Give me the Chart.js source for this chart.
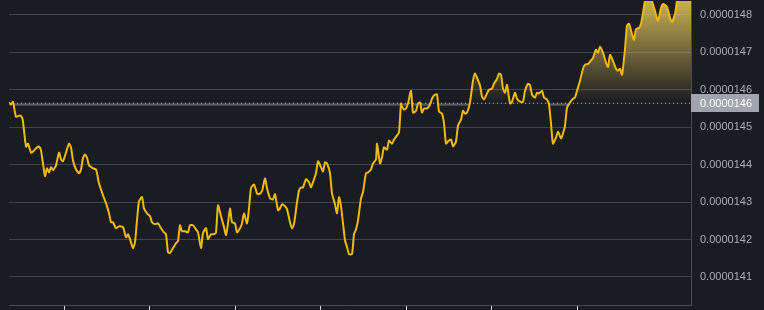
<!DOCTYPE html>
<html>
<head>
<meta charset="utf-8">
<script src="https://cdn.jsdelivr.net/npm/chart.js@4.4.1/dist/chart.umd.min.js"></script>
<style>
  html, body { margin: 0; padding: 0; background: #1b1c21; overflow: hidden; }
  #wrap { width: 764px; height: 310px; }
</style>
</head>
<body>
<div id="wrap"><canvas id="priceChart" width="764" height="310"></canvas></div>
<script>
// Time steps (minutes from first sample)
const minutes = [
  0, 2, 4, 7, 11, 13, 14, 17, 19, 22, 24, 28, 30, 32, 36, 38, 40, 42, 44, 47,
  50, 52, 54, 57, 60, 62, 64, 67, 70, 72, 74, 76, 78, 80, 84, 87, 90, 94, 97, 100,
  102, 104, 107, 110, 114, 117, 119, 121, 124, 126, 128, 130, 133, 135, 138, 141, 143, 146, 149, 152,
  155, 157, 159, 161, 164, 167, 169, 171, 173, 176, 179, 181, 184, 187, 189, 192, 194, 197, 199, 202,
  205, 207, 209, 212, 215, 217, 219, 221, 223, 226, 228, 231, 233, 235, 238, 240, 242, 245, 248, 250,
  253, 256, 258, 261, 264, 266, 269, 271, 273, 276, 278, 281, 283, 285, 288, 290, 292, 294, 297, 300,
  302, 304, 307, 309, 312, 314, 316, 318, 321, 323, 326, 328, 330, 332, 336, 338, 340, 343, 345, 347,
  349, 352, 354, 357, 359, 362, 364, 367, 368, 371, 373, 375, 378, 380, 383, 385, 388, 390, 392, 393,
  395, 397, 399, 402, 404, 407, 409, 411, 413, 415, 418, 421, 423, 426, 428, 430, 433, 435, 437, 439,
  442, 444, 447, 449, 452, 454, 456, 458, 461, 464, 466, 468, 471, 473, 475, 478, 480, 483, 485, 488,
  490, 492, 494, 496, 498, 501, 503, 506, 508, 511, 514, 516, 519, 521, 523, 526, 528, 530, 533, 535,
  538, 540, 542, 544, 547, 549, 552, 554, 556, 558, 561, 564, 566, 568, 571, 574, 576, 579, 581, 584,
  587, 589, 591, 594, 597, 599, 601, 604, 607, 609, 611, 613, 616, 618, 620, 623, 625, 627, 630, 632,
  634, 636, 639, 641, 643, 646, 649, 652, 654, 658, 661, 663, 666, 668, 671, 675, 679, 682
];

// Price values
const prices = [
  1.4566e-5, 1.4560e-5, 1.4568e-5, 1.4528e-5, 1.4531e-5, 1.4526e-5, 1.4515e-5, 1.4448e-5, 1.4456e-5, 1.4432e-5,
  1.4435e-5, 1.4446e-5, 1.4448e-5, 1.4438e-5, 1.4369e-5, 1.4390e-5, 1.4379e-5, 1.4393e-5, 1.4385e-5, 1.4398e-5,
  1.4432e-5, 1.4414e-5, 1.4409e-5, 1.4432e-5, 1.4456e-5, 1.4446e-5, 1.4411e-5, 1.4387e-5, 1.4377e-5, 1.4387e-5,
  1.4417e-5, 1.4427e-5, 1.4419e-5, 1.4398e-5, 1.4390e-5, 1.4387e-5, 1.4350e-5, 1.4318e-5, 1.4297e-5, 1.4270e-5,
  1.4246e-5, 1.4246e-5, 1.4230e-5, 1.4235e-5, 1.4233e-5, 1.4206e-5, 1.4214e-5, 1.4201e-5, 1.4177e-5, 1.4193e-5,
  1.4251e-5, 1.4302e-5, 1.4313e-5, 1.4283e-5, 1.4270e-5, 1.4262e-5, 1.4246e-5, 1.4241e-5, 1.4243e-5, 1.4230e-5,
  1.4219e-5, 1.4214e-5, 1.4166e-5, 1.4164e-5, 1.4177e-5, 1.4190e-5, 1.4196e-5, 1.4238e-5, 1.4222e-5, 1.4222e-5,
  1.4219e-5, 1.4238e-5, 1.4238e-5, 1.4227e-5, 1.4219e-5, 1.4177e-5, 1.4217e-5, 1.4230e-5, 1.4201e-5, 1.4214e-5,
  1.4214e-5, 1.4219e-5, 1.4291e-5, 1.4262e-5, 1.4233e-5, 1.4212e-5, 1.4243e-5, 1.4283e-5, 1.4246e-5, 1.4243e-5,
  1.4219e-5, 1.4230e-5, 1.4243e-5, 1.4270e-5, 1.4243e-5, 1.4283e-5, 1.4337e-5, 1.4347e-5, 1.4323e-5, 1.4321e-5,
  1.4329e-5, 1.4363e-5, 1.4337e-5, 1.4310e-5, 1.4307e-5, 1.4321e-5, 1.4278e-5, 1.4283e-5, 1.4294e-5, 1.4289e-5,
  1.4281e-5, 1.4246e-5, 1.4230e-5, 1.4241e-5, 1.4299e-5, 1.4331e-5, 1.4339e-5, 1.4339e-5, 1.4361e-5, 1.4353e-5,
  1.4339e-5, 1.4353e-5, 1.4377e-5, 1.4409e-5, 1.4393e-5, 1.4382e-5, 1.4406e-5, 1.4403e-5, 1.4377e-5, 1.4323e-5,
  1.4294e-5, 1.4270e-5, 1.4313e-5, 1.4289e-5, 1.4198e-5, 1.4180e-5, 1.4161e-5, 1.4161e-5, 1.4214e-5, 1.4227e-5,
  1.4251e-5, 1.4310e-5, 1.4326e-5, 1.4377e-5, 1.4379e-5, 1.4387e-5, 1.4403e-5, 1.4414e-5, 1.4456e-5, 1.4403e-5,
  1.4419e-5, 1.4446e-5, 1.4440e-5, 1.4464e-5, 1.4456e-5, 1.4467e-5, 1.4478e-5, 1.4486e-5, 1.4563e-5, 1.4555e-5,
  1.4547e-5, 1.4550e-5, 1.4563e-5, 1.4597e-5, 1.4539e-5, 1.4544e-5, 1.4563e-5, 1.4566e-5, 1.4539e-5, 1.4550e-5,
  1.4550e-5, 1.4560e-5, 1.4576e-5, 1.4587e-5, 1.4587e-5, 1.4542e-5, 1.4536e-5, 1.4510e-5, 1.4456e-5, 1.4462e-5,
  1.4467e-5, 1.4448e-5, 1.4462e-5, 1.4504e-5, 1.4520e-5, 1.4544e-5, 1.4536e-5, 1.4539e-5, 1.4566e-5, 1.4624e-5,
  1.4643e-5, 1.4632e-5, 1.4611e-5, 1.4582e-5, 1.4574e-5, 1.4590e-5, 1.4600e-5, 1.4603e-5, 1.4616e-5, 1.4629e-5,
  1.4643e-5, 1.4640e-5, 1.4603e-5, 1.4592e-5, 1.4613e-5, 1.4563e-5, 1.4568e-5, 1.4592e-5, 1.4576e-5, 1.4568e-5,
  1.4568e-5, 1.4597e-5, 1.4616e-5, 1.4613e-5, 1.4587e-5, 1.4579e-5, 1.4592e-5, 1.4590e-5, 1.4597e-5, 1.4579e-5,
  1.4574e-5, 1.4560e-5, 1.4510e-5, 1.4456e-5, 1.4472e-5, 1.4488e-5, 1.4470e-5, 1.4483e-5, 1.4504e-5, 1.4552e-5,
  1.4566e-5, 1.4576e-5, 1.4579e-5, 1.4597e-5, 1.4624e-5, 1.4656e-5, 1.4667e-5, 1.4669e-5, 1.4675e-5, 1.4685e-5,
  1.4707e-5, 1.4699e-5, 1.4715e-5, 1.4699e-5, 1.4672e-5, 1.4661e-5, 1.4693e-5, 1.4677e-5, 1.4656e-5, 1.4651e-5,
  1.4656e-5, 1.4640e-5, 1.4709e-5, 1.4771e-5, 1.4776e-5, 1.4749e-5, 1.4733e-5, 1.4762e-5, 1.4765e-5, 1.4776e-5,
  1.4805e-5, 1.4837e-5, 1.4858e-5, 1.4853e-5, 1.4837e-5, 1.4810e-5, 1.4784e-5, 1.4818e-5, 1.4829e-5, 1.4821e-5,
  1.4792e-5, 1.4781e-5, 1.4802e-5, 1.4837e-5, 1.4858e-5, 1.4869e-5, 1.4864e-5, 1.4853e-5
];

const lastPrice = 1.4564e-5;
const yTicks = [1.41e-5, 1.42e-5, 1.43e-5, 1.44e-5, 1.45e-5, 1.46e-5, 1.47e-5, 1.48e-5];
const xTicks = [55, 140.5, 226, 311.5, 397, 482.5, 568];
const yMin = 1.4025e-5;
const yMax = 1.4837e-5;

const points = minutes.map((m, i) => ({ x: m, y: prices[i] }));
const lastLine = [
  { x: minutes[0], y: lastPrice },
  { x: minutes[minutes.length - 1], y: lastPrice }
];

// price tag on the right axis
const priceTag = {
  id: 'priceTag',
  afterDraw(chart) {
    const ctx = chart.ctx;
    const y = chart.scales.y.getPixelForValue(lastPrice);
    const left = chart.chartArea.right;
    ctx.save();
    ctx.fillStyle = '#9fa4ae';
    ctx.fillRect(left, Math.round(y) - 9, 68, 18);
    ctx.fillStyle = '#ffffff';
    ctx.font = '11px "Liberation Sans", Arial, sans-serif';
    ctx.textBaseline = 'middle';
    ctx.textAlign = 'left';
    ctx.fillText(lastPrice.toFixed(7), left + 9, Math.round(y) + 0.5);
    ctx.restore();
  }
};

const ctx = document.getElementById('priceChart').getContext('2d');
const chart = new Chart(ctx, {
  type: 'line',
  data: {
    datasets: [
      {
        data: points,
        borderColor: '#f0b90b',
        borderWidth: 2,
        pointRadius: 0,
        tension: 0.2,
        fill: { target: { value: lastPrice }, above: 'rgba(0,0,0,0)', below: 'rgba(0,0,0,0)' }
      },
      {
        data: lastLine,
        borderColor: 'rgba(210,212,218,0.85)',
        borderWidth: 1,
        borderDash: [1, 3],
        pointRadius: 0,
        fill: false
      }
    ]
  },
  options: {
    responsive: false,
    animation: false,
    layout: { padding: { left: 9, top: 0, right: 0, bottom: 0 } },
    plugins: {
      legend: { display: false },
      tooltip: { enabled: false },
      filler: { drawTime: 'beforeDatasetsDraw' }
    },
    scales: {
      x: {
        type: 'linear',
        min: 0,
        max: 682,
        afterBuildTicks: (scale) => { scale.ticks = xTicks.map(v => ({ value: v })); },
        afterFit: (scale) => { scale.height = 5; scale.paddingLeft = 0; scale.paddingRight = 0; },
        grid: { drawOnChartArea: false, drawTicks: true, tickLength: 5, color: '#d8dade' },
        border: { display: true, color: '#4a4d55' },
        ticks: { display: false }
      },
      y: {
        position: 'right',
        min: yMin,
        max: yMax,
        afterBuildTicks: (scale) => { scale.ticks = yTicks.map(v => ({ value: v })); },
        afterFit: (scale) => { scale.width = 73; scale.paddingTop = 0; scale.paddingBottom = 0; },
        grid: { color: '#42454c', drawTicks: false },
        border: { display: true, color: '#4a4d55' },
        ticks: {
          padding: 9,
          color: '#a9adb5',
          font: { family: '"Liberation Sans", Arial, sans-serif', size: 11 },
          callback: (v) => Number(v).toFixed(7)
        }
      }
    }
  },
  plugins: [priceTag]
});

// gradients need the laid-out chart area
const area = chart.chartArea;
const baseY = chart.scales.y.getPixelForValue(lastPrice);
const gAbove = ctx.createLinearGradient(0, area.top, 0, baseY);
gAbove.addColorStop(0, 'rgba(226,198,92,0.88)');
gAbove.addColorStop(1, 'rgba(226,198,92,0.0)');
const gBelow = ctx.createLinearGradient(0, baseY, 0, baseY + 4);
gBelow.addColorStop(0, 'rgba(96,98,105,1)');
gBelow.addColorStop(0.6, 'rgba(96,98,105,0.9)');
gBelow.addColorStop(1, 'rgba(96,98,105,0.0)');
chart.data.datasets[0].fill = { target: { value: lastPrice }, above: gAbove, below: gBelow };
chart.update('none');
</script>
</body>
</html>
